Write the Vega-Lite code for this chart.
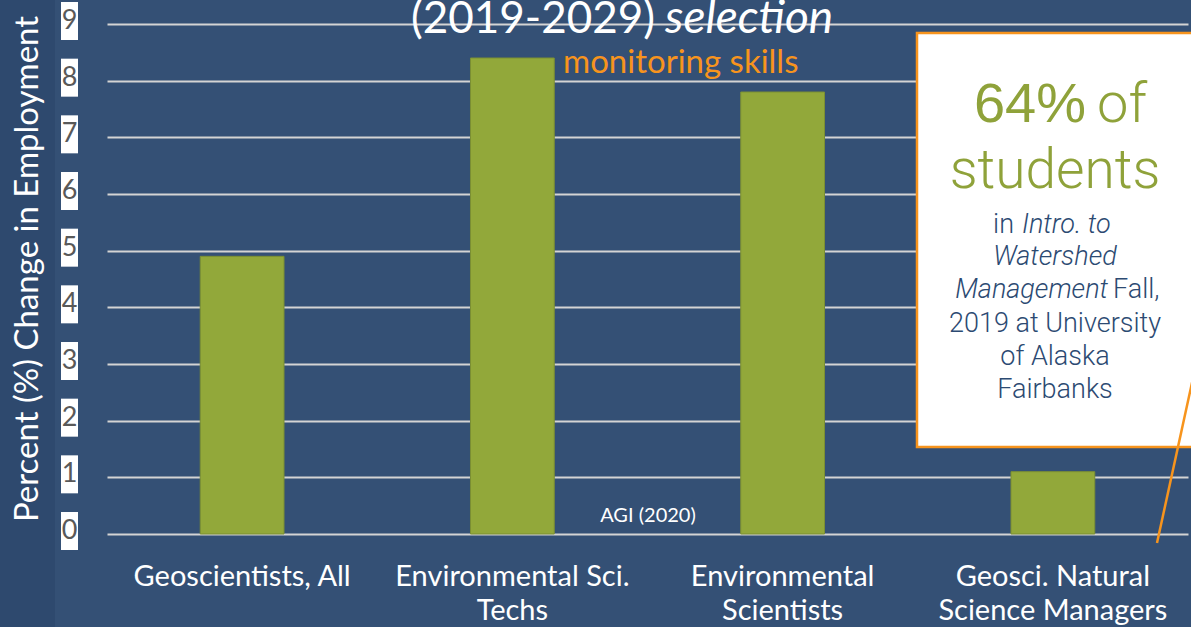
{
  "$schema": "https://vega.github.io/schema/vega-lite/v6.json",
  "width": 1081,
  "height": 510,
  "autosize": "none",
  "padding": {"left": 107, "top": 24, "right": 3, "bottom": 93},
  "background": "#345075",
  "config": {"view": {"stroke": null}, "font": "Lato"},
  "datasets": {
    "bars": [
      {"category": "Geoscientists, All", "pct": 4.9},
      {"category": "Environmental Sci. Techs", "pct": 8.4},
      {"category": "Environmental Scientists", "pct": 7.8},
      {"category": "Geosci. Natural Science Managers", "pct": 1.1}
    ],
    "ticks": [{"v": 0}, {"v": 1}, {"v": 2}, {"v": 3}, {"v": 4}, {"v": 5}, {"v": 6}, {"v": 7}, {"v": 8}, {"v": 9}],
    "one": [{}]
  },
  "layer": [
    {
      "data": {"name": "one"},
      "mark": {"type": "rect", "fill": "#2e496e", "clip": false},
      "encoding": {
        "x": {"value": -107}, "x2": {"value": -52},
        "y": {"value": -24}, "y2": {"value": 603}
      }
    },
    {
      "data": {"name": "one"},
      "mark": {"type": "text", "text": "Percent (%) Change in Employment", "color": "white", "fontSize": 33, "font": "Lato", "angle": 270, "align": "center", "baseline": "middle", "clip": false},
      "encoding": {"x": {"value": -79}, "y": {"value": 245}}
    },
    {
      "data": {"name": "bars"},
      "mark": {"type": "bar", "color": "#92a83a", "stroke": "#7b8f33", "strokeWidth": 1},
      "encoding": {
        "x": {
          "field": "category", "type": "nominal", "sort": null,
          "scale": {"paddingInner": 0.69, "paddingOuter": 0.345},
          "axis": {
            "title": null, "labelAngle": 0, "ticks": false, "domain": false,
            "labelColor": "white", "labelFont": "Lato", "labelFontSize": 29,
            "labelPadding": 28, "labelLineHeight": 34, "labelLimit": 400,
            "labelExpr": "datum.label == 'Environmental Sci. Techs' ? ['Environmental Sci.', 'Techs'] : datum.label == 'Environmental Scientists' ? ['Environmental', 'Scientists'] : datum.label == 'Geosci. Natural Science Managers' ? ['Geosci. Natural', 'Science Managers'] : datum.label"
          }
        },
        "y": {
          "field": "pct", "type": "quantitative",
          "scale": {"domain": [0, 9], "nice": false},
          "axis": {
            "values": [0, 1, 2, 3, 4, 5, 6, 7, 8, 9],
            "grid": true, "gridColor": "#d4d4d4", "gridWidth": 2,
            "labels": false, "ticks": false, "domain": false, "title": null
          }
        }
      }
    },
    {
      "data": {"name": "ticks"},
      "mark": {"type": "point", "shape": "M-0.447,-1L0.447,-1L0.447,1L-0.447,1Z", "size": 1444, "filled": true, "fill": "white", "opacity": 1, "yOffset": -3, "clip": false},
      "encoding": {"x": {"value": -37.5}, "y": {"field": "v", "type": "quantitative"}}
    },
    {
      "data": {"name": "ticks"},
      "mark": {"type": "text", "color": "#595959", "fontSize": 27, "font": "Lato", "align": "center", "baseline": "middle", "yOffset": -3, "clip": false},
      "encoding": {"x": {"value": -37.5}, "y": {"field": "v", "type": "quantitative"}, "text": {"field": "v", "type": "quantitative"}}
    },
    {
      "data": {"name": "one"},
      "mark": {"type": "text", "text": "(2019-2029)", "color": "white", "fontSize": 44, "font": "Lato", "align": "right", "baseline": "alphabetic", "clip": false},
      "encoding": {"x": {"value": 548}, "y": {"value": 9}}
    },
    {
      "data": {"name": "one"},
      "mark": {"type": "text", "text": "selection", "color": "white", "fontSize": 46, "font": "Lato", "fontStyle": "italic", "align": "left", "baseline": "alphabetic", "clip": false},
      "encoding": {"x": {"value": 558}, "y": {"value": 9}}
    },
    {
      "data": {"name": "one"},
      "mark": {"type": "text", "text": "monitoring skills", "color": "#f7941d", "fontSize": 33, "font": "Lato", "align": "left", "baseline": "alphabetic"},
      "encoding": {"x": {"value": 456}, "y": {"value": 49}}
    },
    {
      "data": {"name": "one"},
      "mark": {"type": "text", "text": "AGI (2020)", "color": "white", "fontSize": 20, "font": "Lato", "align": "center", "baseline": "alphabetic"},
      "encoding": {"x": {"value": 541}, "y": {"value": 498}}
    },
    {
      "data": {"name": "one"},
      "mark": {"type": "rect", "fill": "white", "stroke": "#f7941d", "strokeWidth": 2.5, "clip": false},
      "encoding": {"x": {"value": 810}, "x2": {"value": 1095}, "y": {"value": 9}, "y2": {"value": 423}}
    },
    {
      "data": {"name": "one"},
      "mark": {"type": "rule", "color": "#f7941d", "strokeWidth": 2.5, "clip": false},
      "encoding": {"x": {"value": 1090}, "y": {"value": 336}, "x2": {"value": 1050}, "y2": {"value": 519}}
    },
    {
      "data": {"name": "one"},
      "mark": {"type": "text", "text": "64%", "color": "#8fa23a", "fontSize": 56, "font": "Liberation Sans", "fontWeight": 400, "align": "right", "baseline": "alphabetic", "clip": false},
      "encoding": {"x": {"value": 979}, "y": {"value": 98}}
    },
    {
      "data": {"name": "one"},
      "mark": {"type": "text", "text": "of", "color": "#8fa23a", "fontSize": 56, "font": "Roboto", "fontWeight": 300, "align": "left", "baseline": "alphabetic", "clip": false},
      "encoding": {"x": {"value": 990}, "y": {"value": 98}}
    },
    {
      "data": {"name": "one"},
      "mark": {"type": "text", "text": "students", "color": "#8fa23a", "fontSize": 55, "font": "Roboto", "fontWeight": 300, "align": "center", "baseline": "alphabetic", "clip": false},
      "encoding": {"x": {"value": 948}, "y": {"value": 164}}
    },
    {
      "data": {"name": "one"},
      "mark": {"type": "text", "text": "in", "color": "#2c4a72", "fontSize": 27, "font": "Roboto", "fontWeight": 300, "align": "right", "baseline": "alphabetic", "clip": false},
      "encoding": {"x": {"value": 907}, "y": {"value": 209}}
    },
    {
      "data": {"name": "one"},
      "mark": {"type": "text", "text": "Intro. to", "color": "#2c4a72", "fontSize": 27, "font": "Roboto", "fontWeight": 300, "fontStyle": "italic", "align": "left", "baseline": "alphabetic", "clip": false},
      "encoding": {"x": {"value": 915}, "y": {"value": 209}}
    },
    {
      "data": {"name": "one"},
      "mark": {"type": "text", "text": "Watershed", "color": "#2c4a72", "fontSize": 27, "font": "Roboto", "fontWeight": 300, "fontStyle": "italic", "align": "center", "baseline": "alphabetic", "clip": false},
      "encoding": {"x": {"value": 948}, "y": {"value": 241}}
    },
    {
      "data": {"name": "one"},
      "mark": {"type": "text", "text": "Management", "color": "#2c4a72", "fontSize": 27, "font": "Roboto", "fontWeight": 300, "fontStyle": "italic", "align": "right", "baseline": "alphabetic", "clip": false},
      "encoding": {"x": {"value": 1001}, "y": {"value": 274}}
    },
    {
      "data": {"name": "one"},
      "mark": {"type": "text", "text": "Fall,", "color": "#2c4a72", "fontSize": 27, "font": "Roboto", "fontWeight": 300, "align": "left", "baseline": "alphabetic", "clip": false},
      "encoding": {"x": {"value": 1006}, "y": {"value": 274}}
    },
    {
      "data": {"name": "one"},
      "mark": {"type": "text", "text": "2019 at University", "color": "#2c4a72", "fontSize": 27, "font": "Roboto", "fontWeight": 300, "align": "center", "baseline": "alphabetic", "clip": false},
      "encoding": {"x": {"value": 948}, "y": {"value": 308}}
    },
    {
      "data": {"name": "one"},
      "mark": {"type": "text", "text": "of Alaska", "color": "#2c4a72", "fontSize": 27, "font": "Roboto", "fontWeight": 300, "align": "center", "baseline": "alphabetic", "clip": false},
      "encoding": {"x": {"value": 948}, "y": {"value": 341}}
    },
    {
      "data": {"name": "one"},
      "mark": {"type": "text", "text": "Fairbanks", "color": "#2c4a72", "fontSize": 27, "font": "Roboto", "fontWeight": 300, "align": "center", "baseline": "alphabetic", "clip": false},
      "encoding": {"x": {"value": 948}, "y": {"value": 374}}
    }
  ]
}
